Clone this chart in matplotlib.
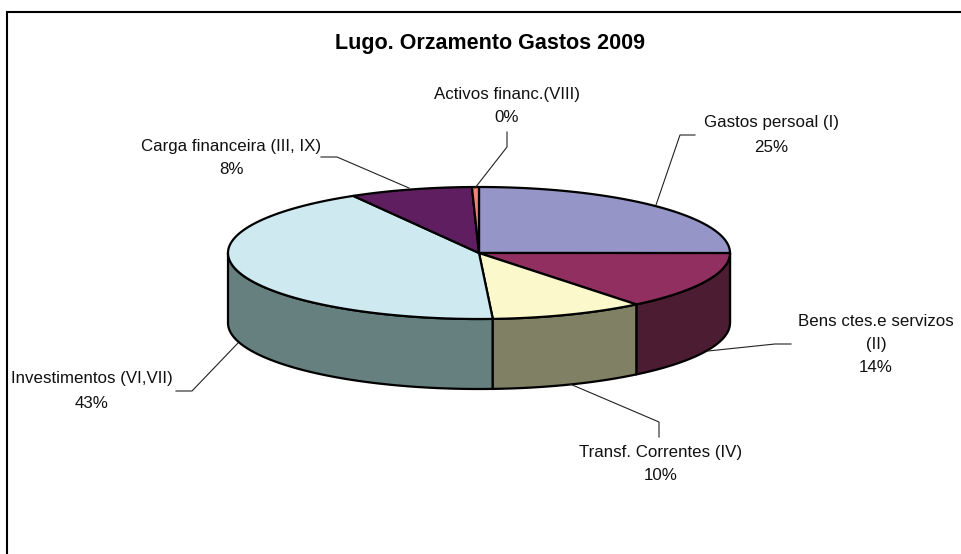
import numpy as np
import matplotlib
matplotlib.use("Agg")
import matplotlib.pyplot as plt
from matplotlib.patches import Polygon

plt.rcParams['font.family'] = ['Liberation Sans', 'DejaVu Sans']

categories = ["Gastos persoal (I)", "Bens ctes.e servizos\n(II)", "Transf. Correntes (IV)",
              "Investimentos (VI,VII)", "Carga financeira (III, IX)", "Activos financ.(VIII)"]
values = [25.0, 14.2, 9.9, 42.5, 7.9, 0.45]
percent_labels = ["25%", "14%", "10%", "43%", "8%", "0%"]
top_colors = ["#9595C8", "#913060", "#FBF8CC", "#CFE9F0", "#5E1E60", "#F08078"]
side_colors = ["#4A4A64", "#4C1C33", "#7F8064", "#65807F", "#2F0F30", "#784040"]
title = "Lugo. Orzamento Gastos 2009"

# pie geometry in pixel units
CX, CY, A, B, DEPTH = 479, 253, 251, 66, 70
EDGE = 1.6
LABEL_SIZE = 12.2

fig = plt.figure(figsize=(9.61, 5.54), dpi=100)
ax = fig.add_axes([0, 0, 1, 1])
ax.set_xlim(0, 961)
ax.set_ylim(554, 0)
ax.axis("off")


def pt(theta, dy=0.0):
    """theta in degrees, clockwise from twelve o'clock."""
    t = np.radians(theta)
    return np.column_stack([CX + A * np.sin(t), CY - B * np.cos(t) + dy])


fractions = np.array(values) / np.sum(values)
edges = np.concatenate([[0], np.cumsum(fractions)]) * 360

# side walls, visible only on the front half
order = sorted(range(len(values)), key=lambda i: -abs(180 - (edges[i] + edges[i + 1]) / 2))
for i in order:
    lo, hi = max(edges[i], 90), min(edges[i + 1], 270)
    if hi <= lo:
        continue
    th = np.linspace(lo, hi, 120)
    poly = np.vstack([pt(th), pt(th[::-1], DEPTH)])
    ax.add_patch(Polygon(poly, closed=True, facecolor=side_colors[i], edgecolor="black",
                         linewidth=EDGE, joinstyle="round", zorder=2))

# top faces
for i in range(len(values)):
    th = np.linspace(edges[i], edges[i + 1], 200)
    poly = np.vstack([[[CX, CY]], pt(th)])
    ax.add_patch(Polygon(poly, closed=True, facecolor=top_colors[i], edgecolor="black",
                         linewidth=EDGE, joinstyle="round", zorder=3))

# chart frame: only top and left edges fall inside the picture
ax.plot([7, 7, 961], [554, 11.5, 11.5], color="black", lw=1.5, zorder=1, solid_joinstyle="miter")

ax.text(490, 43, title, ha="center", va="center", fontsize=15.5, fontweight="bold", color="black")

# (x centre, y of name line(s), y of percent line)
label_pos = [
    (771, [123], 147),
    (876, [321, 344], 367),
    (661, [452], 475),
    (92, [379], 403),
    (231, [147], 169),
    (507, [94], 118),
]
for i, (x, name_ys, pct_y) in enumerate(label_pos):
    for line, y in zip(categories[i].split("\n"), name_ys):
        ax.text(x, y, line, ha="center", va="center", fontsize=LABEL_SIZE, color="#111111")
    ax.text(x, pct_y, percent_labels[i], ha="center", va="center", fontsize=LABEL_SIZE, color="#111111")

leaders = [
    ([695, 680, 656], [135, 135, 205]),
    ([791, 775, 708], [344, 344, 351]),
    ([659, 659, 570], [437, 422, 384]),
    ([176, 192, 238], [391, 391, 343]),
    ([321, 337, 409], [157, 157, 188]),
    ([507, 507, 475], [132, 147, 188]),
]
for xs, ys in leaders:
    ax.plot(xs, ys, color="#222222", lw=0.8, zorder=4)

fig.savefig("out.png", dpi=100, facecolor="white")
